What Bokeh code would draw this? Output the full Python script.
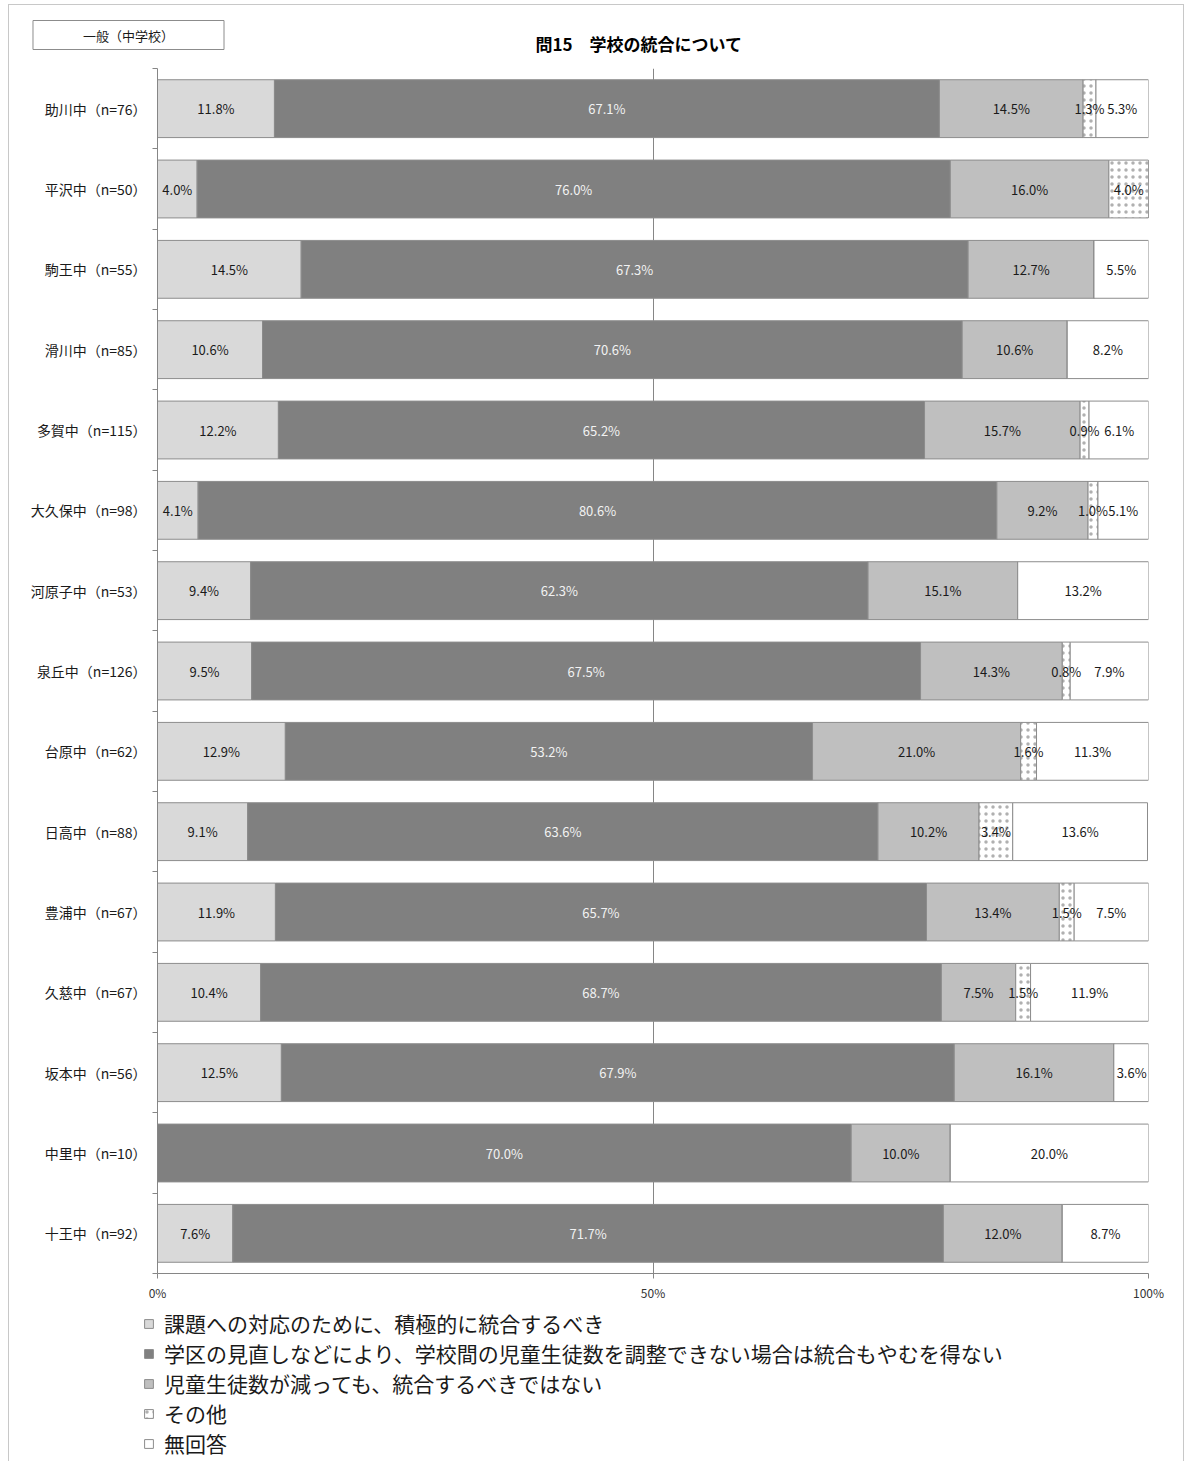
from bokeh.plotting import figure
from bokeh.layouts import column
from bokeh.models import (Range1d, FixedTicker, Legend, LegendItem, Label,
                          ColumnDataSource)
from bokeh.core.properties import value
from bokeh.embed import file_html
from bokeh.resources import INLINE

# ---------------- data ----------------
schools = ["助川中（n=76）", "平沢中（n=50）", "駒王中（n=55）", "滑川中（n=85）",
           "多賀中（n=115）", "大久保中（n=98）", "河原子中（n=53）", "泉丘中（n=126）",
           "台原中（n=62）", "日高中（n=88）", "豊浦中（n=67）", "久慈中（n=67）",
           "坂本中（n=56）", "中里中（n=10）", "十王中（n=92）"]

positive = [11.8, 4.0, 14.5, 10.6, 12.2, 4.1, 9.4, 9.5, 12.9, 9.1, 11.9, 10.4, 12.5, 0.0, 7.6]
unavoidable = [67.1, 76.0, 67.3, 70.6, 65.2, 80.6, 62.3, 67.5, 53.2, 63.6, 65.7, 68.7, 67.9, 70.0, 71.7]
against = [14.5, 16.0, 12.7, 10.6, 15.7, 9.2, 15.1, 14.3, 21.0, 10.2, 13.4, 7.5, 16.1, 10.0, 12.0]
other = [1.3, 4.0, 0.0, 0.0, 0.9, 1.0, 0.0, 0.8, 1.6, 3.4, 1.5, 1.5, 0.0, 0.0, 0.0]
no_answer = [5.3, 0.0, 5.5, 8.2, 6.1, 5.1, 13.2, 7.9, 11.3, 13.6, 7.5, 11.9, 3.6, 20.0, 8.7]

series_names = ["課題への対応のために、積極的に統合するべき",
                "学区の見直しなどにより、学校間の児童生徒数を調整できない場合は統合もやむを得ない",
                "児童生徒数が減っても、統合するべきではない",
                "その他",
                "無回答"]
series_values = [positive, unavoidable, against, other, no_answer]

x_ticks = [0, 50, 100]
x_tick_labels = ["0%", "50%", "100%"]

title_text = "問15　学校の統合について"
box_text = "一般（中学校）"

# ---------------- styles ----------------
FONT = "Noto Sans CJK JP"
fills = ["#d9d9d9", "#808080", "#bfbfbf", "#ffffff", "#ffffff"]
text_colors = ["#1a1a1a", "#f2f2f2", "#1a1a1a", "#1a1a1a", "#1a1a1a"]
outline = "#8c8c8c"
W = 1174


def style_kw(k):
    kw = dict(fill_color=fills[k], line_color=outline, line_width=1)
    if k == 3:
        kw.update(hatch_pattern="dot", hatch_color="#b0b0b0", hatch_scale=7, hatch_weight=1)
    return kw


# ---------------- header (title + box) ----------------
head = figure(width=W, height=63, output_backend="svg", toolbar_location=None,
              x_axis_type=None, y_axis_type=None, x_range=Range1d(0, 1), y_range=Range1d(0, 1),
              min_border=0, outline_line_color=None, frame_align=False)
head.add_layout(Label(x=526, y=25, x_units="screen", y_units="screen", text=title_text,
                      text_align="left", text_baseline="middle", text_font=FONT,
                      text_font_size="17px", text_font_style="bold", text_color="#000000"))
head.add_layout(Label(x=119, y=33.5, x_units="screen", y_units="screen", text=box_text,
                      text_align="center", text_baseline="middle", text_font=FONT,
                      text_font_size="13px", text_color="#1a1a1a",
                      border_line_color="#8c8c8c", background_fill_color="#ffffff",
                      padding=(50, 5)))

# ---------------- main chart ----------------
n = len(schools)
ys = [n - 1 - i for i in range(n)]

p = figure(width=W, height=1235, output_backend="svg", toolbar_location=None, title=None,
           x_range=Range1d(0, 100), y_range=Range1d(-0.5, n - 0.5),
           min_border_left=148, min_border_right=35, min_border_top=0,
           min_border_bottom=30, outline_line_color=None, frame_align=False)

p.xaxis.ticker = FixedTicker(ticks=x_ticks)
p.xaxis.major_label_overrides = {t: l for t, l in zip(x_ticks, x_tick_labels)}
p.xaxis.major_label_text_font = FONT
p.xaxis.major_label_text_font_size = "12px"
p.xaxis.major_label_text_color = "#333333"
p.xaxis.major_label_standoff = 5
p.xaxis.major_tick_in = 0
p.xaxis.major_tick_out = 5
p.xaxis.minor_tick_line_color = None
p.xaxis.axis_line_color = "#868686"
p.xaxis.major_tick_line_color = "#868686"

p.yaxis.ticker = FixedTicker(ticks=ys, minor_ticks=[k + 0.5 for k in range(-1, n)])
p.yaxis.major_label_overrides = {y: s for y, s in zip(ys, schools)}
p.yaxis.major_label_text_font = FONT
p.yaxis.major_label_text_font_size = "14px"
p.yaxis.major_label_text_color = "#1a1a1a"
p.yaxis.major_label_standoff = 6
p.yaxis.major_tick_line_color = None
p.yaxis.major_tick_in = 0
p.yaxis.major_tick_out = 0
p.yaxis.minor_tick_in = 0
p.yaxis.minor_tick_out = 5
p.yaxis.minor_tick_line_color = "#868686"
p.yaxis.axis_line_color = "#868686"

p.xgrid.ticker = FixedTicker(ticks=x_ticks)
p.xgrid.grid_line_color = "#868686"
p.ygrid.grid_line_color = None

label_sets = []
left = [0.0] * n
for k, vals in enumerate(series_values):
    right = [l + v for l, v in zip(left, vals)]
    p.hbar(y=ys, left=left, right=right, height=0.72, **style_kw(k))
    lx, ly, lt = [], [], []
    for i, v in enumerate(vals):
        if v > 0:
            lx.append(left[i] + v / 2)
            ly.append(ys[i])
            lt.append(f"{v:.1f}%")
    label_sets.append((k, ColumnDataSource(dict(x=lx, y=ly, t=lt))))
    left = right

for k, src in label_sets:
    p.text(x="x", y="y", text="t", source=src, text_align="center",
           text_baseline="middle", text_font=value(FONT), text_font_size="13px",
           text_color=text_colors[k])

# ---------------- legend ----------------
lf = figure(width=W, height=158, output_backend="svg", toolbar_location=None,
            x_axis_type=None, y_axis_type=None, x_range=Range1d(0, 1), y_range=Range1d(0, 1),
            min_border=0, outline_line_color=None, frame_align=False)
items = []
for k, name in enumerate(series_names):
    # legend proxy glyph, kept well outside the visible range
    r = lf.hbar(y=[-5], left=[-3], right=[-2], height=0.5, **style_kw(k))
    items.append(LegendItem(label=name, renderers=[r]))
legend = Legend(items=items, location=(134, 3), orientation="vertical",
                label_text_font=FONT, label_text_font_size="21px", label_text_color="#1a1a1a",
                glyph_width=11, glyph_height=11, label_height=29, label_standoff=10,
                spacing=0, padding=0, margin=0, border_line_color=None,
                background_fill_alpha=0)
lf.add_layout(legend)

layout = column(head, p, lf, spacing=0,
                styles={"margin-left": "9px", "margin-top": "5px",
                        "outline": "1px solid #c8c8c8"})

open("out.html", "w").write(file_html(layout, INLINE))
